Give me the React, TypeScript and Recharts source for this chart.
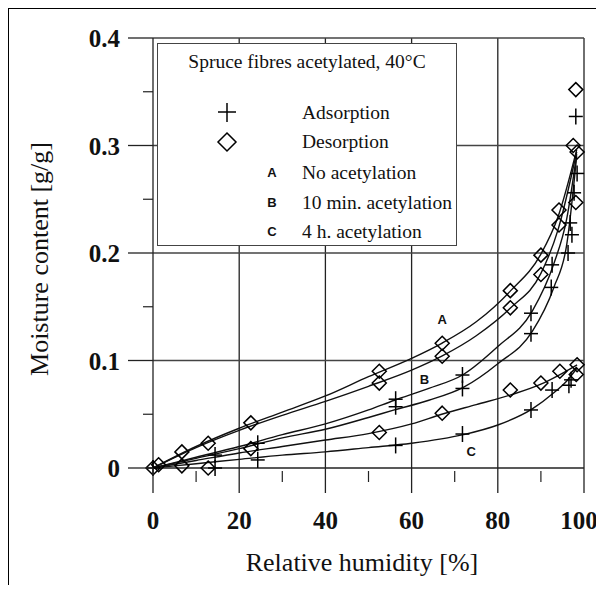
import { ComposedChart, Line, Scatter, XAxis, YAxis, ReferenceLine, ReferenceDot } from 'recharts'

// measured points (relative humidity %, moisture g/g)
const desA = [
  { x: 0, y: 0 }, { x: 6.7, y: 0.015 }, { x: 12.8, y: 0.023 }, { x: 22.7, y: 0.042 },
  { x: 52.5, y: 0.09 }, { x: 67.1, y: 0.116 }, { x: 82.9, y: 0.165 }, { x: 90, y: 0.198 },
  { x: 94.2, y: 0.24 }, { x: 97.5, y: 0.3 }, { x: 98.1, y: 0.352 },
]
const desB = [
  { x: 1.3, y: 0.003 }, { x: 52.5, y: 0.079 }, { x: 67.1, y: 0.104 }, { x: 82.9, y: 0.149 },
  { x: 90, y: 0.18 }, { x: 94.2, y: 0.226 }, { x: 98.4, y: 0.294 }, { x: 98.1, y: 0.247 },
]
const desC = [
  { x: 6.7, y: 0.002 }, { x: 12.8, y: 0 }, { x: 22.7, y: 0.018 }, { x: 52.5, y: 0.033 },
  { x: 67.1, y: 0.051 }, { x: 82.9, y: 0.0725 }, { x: 90, y: 0.079 }, { x: 94.4, y: 0.09 },
  { x: 98.4, y: 0.096 }, { x: 98.2, y: 0.087 },
]
const adsA = [
  { x: 0, y: 0 }, { x: 24.3, y: 0.023 }, { x: 56.3, y: 0.064 }, { x: 71.8, y: 0.0865 },
  { x: 87.7, y: 0.144 }, { x: 92.6, y: 0.189 }, { x: 97.7, y: 0.256 }, { x: 98.1, y: 0.327 },
  { x: 98.4, y: 0.274 },
]
const adsB = [
  { x: 14.4, y: 0.012 }, { x: 56.3, y: 0.057 }, { x: 71.8, y: 0.074 }, { x: 87.7, y: 0.125 },
  { x: 92.4, y: 0.168 }, { x: 96.3, y: 0.2 }, { x: 97.2, y: 0.217 }, { x: 96.8, y: 0.228 },
]
const adsC = [
  { x: 14.4, y: 0 }, { x: 24.3, y: 0.0075 }, { x: 56.3, y: 0.021 }, { x: 71.8, y: 0.0316 },
  { x: 87.7, y: 0.054 }, { x: 92.6, y: 0.0725 }, { x: 96.5, y: 0.077 }, { x: 97, y: 0.082 },
]

// fitted curves
const fitDesA = [
  { x: 0, y: 0 }, { x: 10, y: 0.02 }, { x: 20, y: 0.037 }, { x: 30, y: 0.052 }, { x: 40, y: 0.067 },
  { x: 50, y: 0.085 }, { x: 60, y: 0.102 }, { x: 67, y: 0.116 }, { x: 75, y: 0.136 }, { x: 83, y: 0.165 },
  { x: 90, y: 0.199 }, { x: 94, y: 0.234 }, { x: 98.3, y: 0.296 },
]
const fitDesB = [
  { x: 0, y: 0 }, { x: 10, y: 0.019 }, { x: 20, y: 0.035 }, { x: 30, y: 0.049 }, { x: 40, y: 0.062 },
  { x: 50, y: 0.076 }, { x: 60, y: 0.091 }, { x: 67, y: 0.104 }, { x: 75, y: 0.123 }, { x: 83, y: 0.149 },
  { x: 90, y: 0.181 }, { x: 94, y: 0.222 }, { x: 98.3, y: 0.294 },
]
const fitAdsA = [
  { x: 0, y: 0 }, { x: 10, y: 0.01 }, { x: 20, y: 0.02 }, { x: 30, y: 0.031 }, { x: 40, y: 0.041 },
  { x: 50, y: 0.054 }, { x: 56, y: 0.063 }, { x: 64, y: 0.074 }, { x: 72, y: 0.087 }, { x: 80, y: 0.113 },
  { x: 88, y: 0.146 }, { x: 93, y: 0.19 }, { x: 96, y: 0.232 }, { x: 98.3, y: 0.292 },
]
const fitAdsB = [
  { x: 0, y: 0 }, { x: 10, y: 0.009 }, { x: 20, y: 0.018 }, { x: 30, y: 0.028 }, { x: 40, y: 0.036 },
  { x: 50, y: 0.047 }, { x: 56, y: 0.054 }, { x: 64, y: 0.063 }, { x: 72, y: 0.075 }, { x: 80, y: 0.097 },
  { x: 88, y: 0.127 }, { x: 93, y: 0.168 }, { x: 96, y: 0.208 }, { x: 98.3, y: 0.29 },
]
const fitDesC = [
  { x: 0, y: 0 }, { x: 10, y: 0.007 }, { x: 20, y: 0.014 }, { x: 30, y: 0.02 }, { x: 40, y: 0.026 },
  { x: 50, y: 0.032 }, { x: 60, y: 0.041 }, { x: 67, y: 0.05 }, { x: 75, y: 0.059 }, { x: 83, y: 0.068 },
  { x: 90, y: 0.078 }, { x: 94, y: 0.086 }, { x: 98.4, y: 0.096 },
]
const fitAdsC = [
  { x: 0, y: 0 }, { x: 10, y: 0.004 }, { x: 20, y: 0.008 }, { x: 30, y: 0.012 }, { x: 40, y: 0.015 },
  { x: 50, y: 0.019 }, { x: 60, y: 0.023 }, { x: 72, y: 0.031 }, { x: 80, y: 0.04 }, { x: 88, y: 0.055 },
  { x: 93, y: 0.07 }, { x: 96, y: 0.081 }, { x: 98.4, y: 0.093 },
]

const xTicks = [0, 10, 20, 30, 40, 50, 60, 70, 80, 90, 100]
const yTicks = [0, 0.05, 0.1, 0.15, 0.2, 0.25, 0.3, 0.35, 0.4]
const xGrid = [20, 40, 60, 80, 100]
const yGrid = [0.1, 0.2, 0.3, 0.4]
const curveLabels = [
  { x: 67.1, y: 0.138, text: 'A' },
  { x: 63, y: 0.082, text: 'B' },
  { x: 73.8, y: 0.015, text: 'C' },
]

const W = 595
const H = 576
const AXIS_X = 144
const AXIS_Y = 459
const serif = '"Liberation Serif", "Times New Roman", serif'
const sans = '"Liberation Sans", Arial, sans-serif'

const XTick = (props: any) => {
  const { x, payload } = props
  const v = payload.value
  if (v % 20 !== 0) {
    return <line x1={x} y1={AXIS_Y + 3} x2={x} y2={AXIS_Y + 14} stroke="#222" strokeWidth={1.2} />
  }
  // the last label sits against the right edge of the page
  const tx = v === 100 ? x - 5 : x
  return (
    <g>
      <line x1={x} y1={AXIS_Y} x2={x} y2={AXIS_Y + 25} stroke="#222" strokeWidth={1.3} />
      <text x={tx} y={AXIS_Y + 61} textAnchor="middle" fontFamily={serif} fontSize={25} fontWeight="bold" fill="#111">{v}</text>
    </g>
  )
}

const YTick = (props: any) => {
  const { y, payload } = props
  const v = payload.value
  const major = Math.round(v * 100) % 10 === 0
  if (!major) {
    return <line x1={AXIS_X - 10} y1={y} x2={AXIS_X} y2={y} stroke="#222" strokeWidth={1.2} />
  }
  return (
    <g>
      <line x1={AXIS_X - 25} y1={y} x2={AXIS_X} y2={y} stroke="#222" strokeWidth={1.3} />
      <text x={AXIS_X - 33} y={y + 9} textAnchor="end" fontFamily={serif} fontSize={25} fontWeight="bold" fill="#111">{v === 0 ? '0' : v.toFixed(1)}</text>
    </g>
  )
}

const Plus = (props: any) => {
  const { cx, cy } = props
  return (
    <g stroke="#000" strokeWidth={1.5}>
      <line x1={cx - 7} y1={cy} x2={cx + 7} y2={cy} />
      <line x1={cx} y1={cy - 8} x2={cx} y2={cy + 8} />
    </g>
  )
}

const Diamond = (props: any) => {
  const { cx, cy } = props
  const r = 7
  return <path d={`M${cx},${cy - r}L${cx + r},${cy}L${cx},${cy + r}L${cx - r},${cy}Z`} fill="none" stroke="#000" strokeWidth={1.5} />
}

const fits = [fitDesA, fitDesB, fitAdsA, fitAdsB, fitDesC, fitAdsC]

export default function App() {
  return (
    <div style={{ position: 'relative', width: W, height: H, overflow: 'hidden', borderLeft: '1px solid #000', borderTop: '1px solid #000', background: '#fff' }}>
      <ComposedChart width={W} height={H} margin={{ top: 29, right: W - 575, left: 0, bottom: 0 }}>
        <XAxis dataKey="x" type="number" domain={[0, 100]} ticks={xTicks} interval={0} height={H - 29 - 430}
          tickLine={false} axisLine={{ stroke: '#222', strokeWidth: 1.3 }} tick={<XTick />} />
        <YAxis dataKey="y" type="number" domain={[0, 0.4]} ticks={yTicks} interval={0} width={AXIS_X}
          tickLine={false} axisLine={{ stroke: '#222', strokeWidth: 1.3 }} tick={<YTick />} />
        {xGrid.map(v => (
          <ReferenceLine key={'gx' + v} x={v} stroke="#222" strokeWidth={1.3} />
        ))}
        {yGrid.map(v => (
          <ReferenceLine key={'gy' + v} y={v} stroke="#444" strokeWidth={1.3} />
        ))}
        {fits.map((d, i) => (
          <Line key={'f' + i} data={d} dataKey="y" type="monotone" stroke="#111" strokeWidth={1.4}
            dot={false} activeDot={false} isAnimationActive={false} />
        ))}
        {[adsA, adsB, adsC].map((d, i) => (
          <Scatter key={'a' + i} data={d} shape={<Plus />} isAnimationActive={false} />
        ))}
        {[desA, desB, desC].map((d, i) => (
          <Scatter key={'d' + i} data={d} shape={<Diamond />} isAnimationActive={false} />
        ))}
        {curveLabels.map(l => (
          <ReferenceDot key={l.text} x={l.x} y={l.y} r={0} fill="none" stroke="none"
            label={{ value: l.text, position: 'center', fontFamily: sans, fontSize: 13, fontWeight: 'bold', fill: '#111' }} />
        ))}
      </ComposedChart>

      {/* legend box */}
      <div style={{ position: 'absolute', left: 148, top: 34, width: 298, height: 201, border: '1px solid #444', background: '#fff', fontFamily: serif, color: '#111' }}>
        <div style={{ position: 'absolute', left: 0, width: 298, top: 6, textAlign: 'center', fontSize: 19.5, lineHeight: '24px' }}>Spruce fibres acetylated, 40°C</div>
        <svg style={{ position: 'absolute', left: 0, top: 0 }} width={120} height={120}>
          <g stroke="#000" strokeWidth={1.5}>
            <line x1={60} y1={68} x2={78} y2={68} />
            <line x1={69} y1={59} x2={69} y2={78} />
            <path d="M69,89L78,98L69,107L60,98Z" fill="none" />
          </g>
        </svg>
        {[
          { t: 'Adsorption', y: 69, k: '' },
          { t: 'Desorption', y: 98, k: '' },
          { t: 'No acetylation', y: 129, k: 'A' },
          { t: '10 min. acetylation', y: 159, k: 'B' },
          { t: '4 h. acetylation', y: 188, k: 'C' },
        ].map(r => (
          <div key={r.t}>
            {r.k && <div style={{ position: 'absolute', left: 106, top: r.y - 12, width: 16, textAlign: 'center', lineHeight: '24px', fontFamily: sans, fontWeight: 'bold', fontSize: 13 }}>{r.k}</div>}
            <div style={{ position: 'absolute', left: 144, top: r.y - 12, lineHeight: '24px', fontSize: 19.5, whiteSpace: 'nowrap' }}>{r.t}</div>
          </div>
        ))}
      </div>

      {/* axis titles */}
      <div style={{ position: 'absolute', left: 0, width: 706, top: 538, textAlign: 'center', fontFamily: serif, fontSize: 26, lineHeight: '32px', color: '#111' }}>Relative humidity [%]</div>
      <div style={{ position: 'absolute', left: 31, top: 250, width: 0, height: 0 }}>
        <div style={{ position: 'absolute', left: -160, top: -16, width: 320, textAlign: 'center', transform: 'rotate(-90deg)', fontFamily: serif, fontSize: 26, lineHeight: '32px', color: '#111', whiteSpace: 'nowrap' }}>Moisture content [g/g]</div>
      </div>
    </div>
  )
}
